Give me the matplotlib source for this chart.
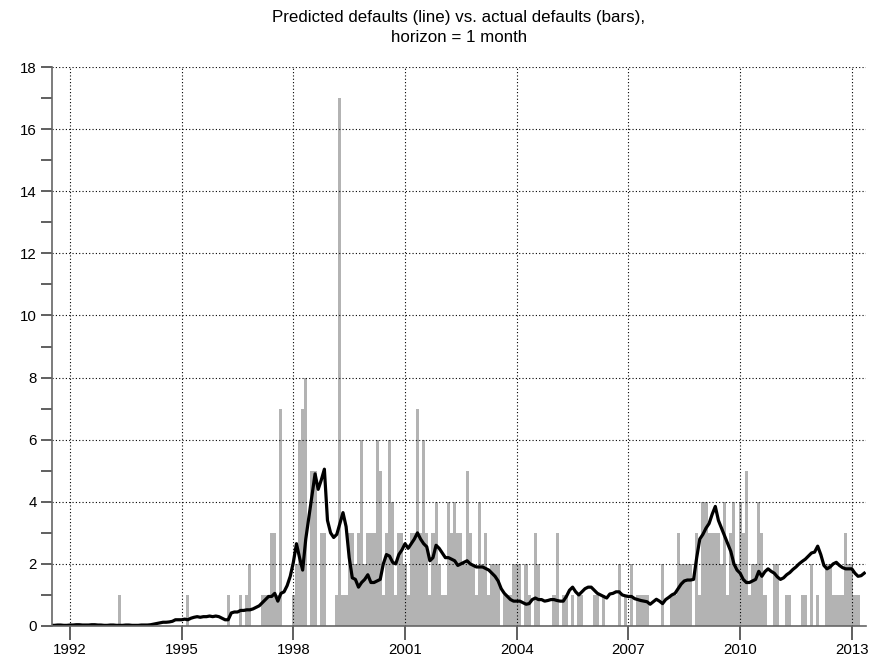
import matplotlib

matplotlib.use("Agg")
import matplotlib.pyplot as plt
import numpy as np

# monthly series, July 1991 .. May 2013
start_year = 1991
start_month = 7

actual_defaults = [
    0, 0, 0, 0, 0, 0,                              # 1991 (Jul-Dec)
    0, 0, 0, 0, 0, 0, 0, 0, 0, 0, 0, 0,            # 1992
    0, 0, 0, 0, 1, 0, 0, 0, 0, 0, 0, 0,            # 1993
    0, 0, 0, 0, 0, 0, 0, 0, 0, 0, 0, 0,            # 1994
    0, 0, 1, 0, 0, 0, 0, 0, 0, 0, 0, 0,            # 1995
    0, 0, 0, 1, 0, 0, 0, 1, 0, 1, 2, 0,            # 1996
    0, 0, 1, 1, 1, 3, 3, 1, 7, 0, 0, 0,            # 1997
    1, 2, 6, 7, 8, 0, 5, 5, 0, 3, 3, 0,            # 1998
    0, 0, 1, 17, 1, 1, 3, 3, 2, 3, 6, 2,           # 1999
    3, 3, 3, 6, 5, 1, 3, 6, 4, 1, 3, 3,            # 2000
    2, 1, 3, 3, 7, 3, 6, 3, 1, 3, 4, 2,            # 2001
    1, 1, 4, 3, 4, 3, 3, 2, 5, 3, 2, 1,            # 2002
    4, 2, 3, 1, 2, 2, 2, 0, 1, 1, 1, 2,            # 2003
    2, 2, 0, 2, 1, 0, 3, 2, 0, 0, 0, 0,            # 2004
    1, 3, 0, 1, 1, 0, 1, 0, 1, 1, 0, 0,            # 2005
    0, 1, 1, 0, 1, 0, 0, 0, 0, 2, 0, 1,            # 2006
    0, 2, 0, 1, 1, 1, 1, 0, 0, 0, 0, 2,            # 2007
    0, 0, 1, 1, 3, 2, 2, 2, 2, 0, 3, 1,            # 2008
    4, 4, 3, 3, 3, 3, 2, 4, 1, 3, 4, 2,            # 2009
    4, 3, 5, 1, 2, 2, 4, 3, 1, 0, 0, 2,            # 2010
    2, 0, 0, 1, 1, 0, 0, 0, 1, 1, 0, 2,            # 2011
    0, 1, 0, 0, 2, 2, 1, 1, 1, 1, 3, 2,            # 2012
    2, 1, 1, 0, 0,                                 # 2013 (Jan-May)
]

predicted_defaults = [
    0.02, 0.02, 0.03, 0.03, 0.02, 0.02,
    0.03, 0.03, 0.04, 0.04, 0.03, 0.03, 0.03, 0.04, 0.04, 0.03, 0.03, 0.02,
    0.02, 0.03, 0.03, 0.02, 0.02, 0.02, 0.03, 0.03, 0.02, 0.02, 0.02, 0.03,
    0.03, 0.03, 0.04, 0.06, 0.08, 0.10, 0.12, 0.12, 0.13, 0.15, 0.20, 0.20,
    0.20, 0.22, 0.20, 0.25, 0.28, 0.30, 0.28, 0.30, 0.30, 0.32, 0.30, 0.32,
    0.30, 0.25, 0.20, 0.20, 0.42, 0.45, 0.45, 0.50, 0.50, 0.52, 0.52, 0.55,
    0.60, 0.65, 0.75, 0.85, 0.95, 0.95, 1.05, 0.80, 1.05, 1.10, 1.30, 1.60,
    2.05, 2.65, 2.20, 1.80, 2.80, 3.50, 4.20, 4.90, 4.40, 4.70, 5.05, 3.40,
    3.00, 2.85, 2.95, 3.30, 3.65, 3.20, 2.20, 1.55, 1.50, 1.25, 1.40, 1.50,
    1.65, 1.40, 1.40, 1.45, 1.50, 2.00, 2.30, 2.25, 2.05, 2.00, 2.30, 2.45,
    2.65, 2.50, 2.65, 2.80, 3.00, 2.80, 2.65, 2.55, 2.10, 2.20, 2.60, 2.50,
    2.35, 2.20, 2.20, 2.15, 2.10, 1.95, 2.00, 2.05, 2.10, 2.00, 1.95, 1.90,
    1.90, 1.90, 1.85, 1.80, 1.70, 1.60, 1.45, 1.20, 1.05, 0.95, 0.85, 0.80,
    0.80, 0.80, 0.75, 0.70, 0.72, 0.85, 0.90, 0.85, 0.85, 0.80, 0.82, 0.85,
    0.85, 0.82, 0.80, 0.80, 0.95, 1.15, 1.25, 1.10, 1.00, 1.10, 1.20, 1.25,
    1.25, 1.15, 1.05, 1.00, 0.95, 0.90, 1.03, 1.05, 1.10, 1.10, 1.00, 0.97,
    0.95, 0.95, 0.88, 0.85, 0.82, 0.80, 0.78, 0.70, 0.78, 0.86, 0.80, 0.72,
    0.85, 0.92, 1.00, 1.05, 1.20, 1.35, 1.45, 1.48, 1.48, 1.50, 2.20, 2.80,
    2.95, 3.15, 3.30, 3.60, 3.85, 3.40, 3.15, 2.90, 2.65, 2.40, 2.00, 1.80,
    1.70, 1.50, 1.40, 1.40, 1.45, 1.50, 1.76, 1.60, 1.75, 1.84, 1.76, 1.70,
    1.58, 1.50, 1.55, 1.65, 1.72, 1.82, 1.90, 2.00, 2.08, 2.15, 2.25, 2.35,
    2.38, 2.57, 2.30, 1.95, 1.84, 1.90, 2.00, 2.05, 1.95, 1.88, 1.84, 1.84,
    1.84, 1.70, 1.60, 1.62, 1.70,
]

year_ticks = [1992, 1995, 1998, 2001, 2004, 2007, 2010, 2013]
title = "Predicted defaults (line) vs. actual defaults (bars),\nhorizon = 1 month"

plt.rcParams["font.family"] = ["Liberation Sans", "DejaVu Sans"]

n = len(actual_defaults)
t = start_year + (start_month - 1) / 12 + np.arange(n) / 12

fig = plt.figure(figsize=(8.78, 6.71), dpi=100)
ax = fig.add_axes([0.0592, 0.0671, 0.9271, 0.833])

ax.bar(t, actual_defaults, width=1 / 12, color="#b3b3b3", linewidth=0)
ax.plot(t, predicted_defaults, color="black", linewidth=2.3)

ax.set_xlim(1991.517, 2013.38)
ax.set_ylim(0, 18)
ax.set_xticks(year_ticks)
ax.set_yticks(np.arange(0, 19, 2))
ax.set_yticks(np.arange(1, 18, 2), minor=True)

ax.grid(True, which="major", color="black", linestyle=(0, (1, 2)), linewidth=0.8)
for side in ("top", "right"):
    ax.spines[side].set_visible(False)
for side in ("left", "bottom"):
    ax.spines[side].set_color("#666666")
    ax.spines[side].set_linewidth(1.2)

ax.tick_params(axis="both", which="both", direction="out", color="#444444",
               width=1.2, labelsize=10.8)
ax.tick_params(axis="y", which="both", length=8, pad=3)
ax.tick_params(axis="x", which="major", length=10, pad=2)

ax.set_title(title, fontsize=12.2, pad=18, linespacing=1.45)

fig.savefig("out.png", dpi=100)
plt.close(fig)
